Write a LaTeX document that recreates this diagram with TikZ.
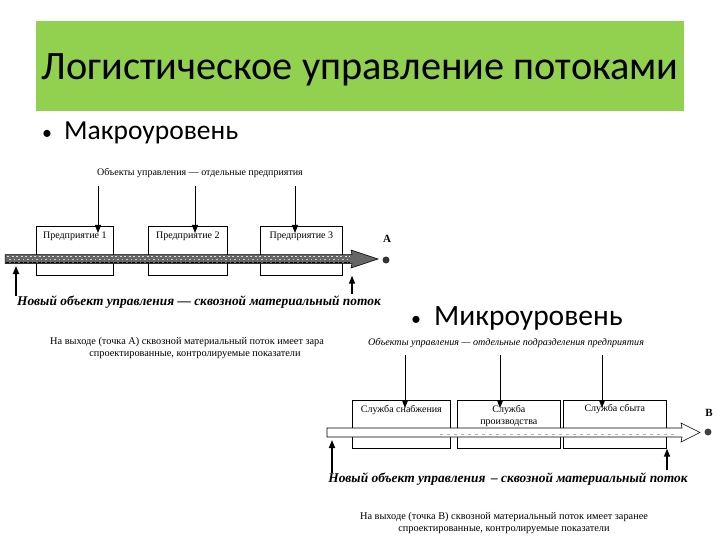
\documentclass[tikz,border=0pt]{standalone}
\usepackage{fontspec}
\setmainfont{Liberation Serif}
\newfontfamily\calfont{Carlito}
\usetikzlibrary{arrows.meta}
\tikzset{
  box/.style={draw, line width=0.7pt, minimum height=49pt, text depth=0pt, anchor=north west, inner sep=0pt},
  lbl/.style={font=\fontsize{10}{11}\selectfont, inner sep=0pt},
  down/.style={line width=1pt, -{Triangle[length=8pt,width=6pt]}},
  up/.style={line width=1.6pt, -{Triangle[length=8pt,width=6pt]}},
  bi/.style={font=\fontsize{13.4}{14}\selectfont\bfseries\itshape, inner sep=0pt},
  small/.style={font=\fontsize{10.3}{12}\selectfont, inner sep=0pt},
  bullet/.style={font=\calfont\fontsize{27.5}{30}\selectfont, inner sep=0pt, anchor=west},
}
\definecolor{titlegreen}{HTML}{92D050}
\begin{document}
\begin{tikzpicture}[x=1pt,y=-1pt]
\useasboundingbox (0,0) rectangle (720,540);
\fill[white] (0,0) rectangle (720,540);
% title
\fill[titlegreen] (36,21) rectangle (684,111);
\node[font=\calfont\fontsize{40.3}{44}\selectfont, inner sep=0pt] (title) at (360,70) {Логистическое управление потоками};
\node[bullet] (macro) at (42,133) {\fontsize{20}{20}\selectfont•\hspace{12pt}\fontsize{27.5}{30}\selectfont Макроуровень};

% ===== macro diagram =====
\node[lbl] (mtop) at (200,173) {Объекты управления — отдельные предприятия};
\node[box, minimum width=77pt] (p1) at (36,226) {};
\node[box, minimum width=79pt] (p2) at (148,226) {};
\node[box, minimum width=82pt] (p3) at (260,226) {};
\node[lbl] (p1t) at ([yshift=-10pt]p1.north) {Предприятие 1};
\node[lbl] (p2t) at ([yshift=-10pt]p2.north) {Предприятие 2};
\node[lbl] (p3t) at ([yshift=-10pt]p3.north) {Предприятие 3};
\coordinate (d1) at (98,186);
\coordinate (d2) at (195,186);
\coordinate (d3) at (295,186);
\draw[down] (d1) -- ([yshift=-7pt]d1 |- p1.north);
\draw[down] (d2) -- ([yshift=-7pt]d2 |- p2.north);
\draw[down] (d3) -- ([yshift=-7pt]d3 |- p3.north);
% flow arrow
\fill[black!60] (5,254.5) -- (352,254.5) -- (351,250) -- (378,259) -- (351,268) -- (352,263.5) -- (5,263.5) -- cycle;
\draw[gray!25, line width=0.7pt, dash pattern=on 2pt off 2.5pt] (7,256.5) -- (350,256.5);
\draw[gray!40, line width=0.7pt, dash pattern=on 1.5pt off 3pt] (9,259.5) -- (350,259.5);
\draw[black, line width=0.6pt, dash pattern=on 3pt off 1.5pt] (6,262) -- (350,262);
\draw[line width=0.5pt] (5,254.5) -- (352,254.5) -- (351,250) -- (378,259) -- (351,268) -- (352,263.5) -- (5,263.5) -- cycle;
\fill[black!80] (386,260) circle (3.5pt);
\node[font=\fontsize{11}{12}\selectfont\bfseries, inner sep=0pt] (A) at (387,239) {А};
\coordinate (u1) at (16,296);
\coordinate (u2) at (352,294);
\draw[up] (u1) -- (16,266);
\draw[up] (u2) -- (u2 |- p3.south);
\node[bi] (mnew) at (199,302) {Новый объект управления — сквозной материальный поток};
\node[small, anchor=west] (mout1) at (50,342) {На выходе (точка А) сквозной материальный поток имеет зара};
\node[small] (mout2) at (195,355) {спроектированные, контролируемые показатели};

% ===== micro diagram =====
\node[bullet] (micro) at (411,318) {\fontsize{20}{20}\selectfont•\hspace{13pt}\fontsize{29.5}{32}\selectfont Микроуровень};
\node[lbl, font=\fontsize{10.1}{11}\selectfont\itshape] (ntop) at (506,343) {Объекты управления — отдельные подразделения предприятия};
\node[box, minimum width=98pt, minimum height=48pt] (s1) at (352,400) {};
\node[box, minimum width=103pt, minimum height=48pt] (s2) at (457,400) {};
\node[box, minimum width=103pt, minimum height=48pt] (s3) at (563,400) {};
\node[lbl] (s1t) at ([yshift=-10pt]s1.north) {Служба снабжения};
\node[lbl, align=center, font=\fontsize{10}{12.5}\selectfont] (s2t) at ([yshift=-16pt]s2.north) {Служба\\производства};
\node[lbl] (s3t) at ([yshift=-9pt]s3.north) {Служба сбыта};
\coordinate (e1) at (405,355);
\coordinate (e2) at (500,355);
\coordinate (e3) at (602,355);
\draw[down] (e1) -- ([yshift=-8pt]e1 |- s1.north);
\draw[down] (e2) -- ([yshift=-8pt]e2 |- s2.north);
\draw[down] (e3) -- ([yshift=-8pt]e3 |- s3.north);
\fill[white] (327,428) -- (682,428) -- (681,423) -- (700,432.5) -- (681,442) -- (682,437) -- (327,437) -- cycle;
\draw[line width=0.6pt] (327,428) -- (682,428) -- (681,423) -- (700,432.5) -- (681,442) -- (682,437) -- (327,437) -- cycle;
\draw[gray!60, line width=0.4pt, dash pattern=on 3pt off 4pt] (440,434) -- (678,434);
\fill[black!75] (708,432) circle (3.5pt);
\node[font=\fontsize{11}{12}\selectfont\bfseries, inner sep=0pt] (B) at (709,413) {В};
\coordinate (v1) at (332,473);
\coordinate (v2) at (667,470);
\draw[up] (v1) -- (332,440);
\draw[up] (v2) -- (v2 |- s3.south);
\node[bi] (nnew) at (508,479) {Новый объект управления \,– сквозной материальный поток};
\node[small] (nout1) at (504,517) {На выходе (точка В) сквозной материальный поток имеет заранее};
\node[small] (nout2) at (504,530) {спроектированные, контролируемые показатели};
\end{tikzpicture}
\end{document}
